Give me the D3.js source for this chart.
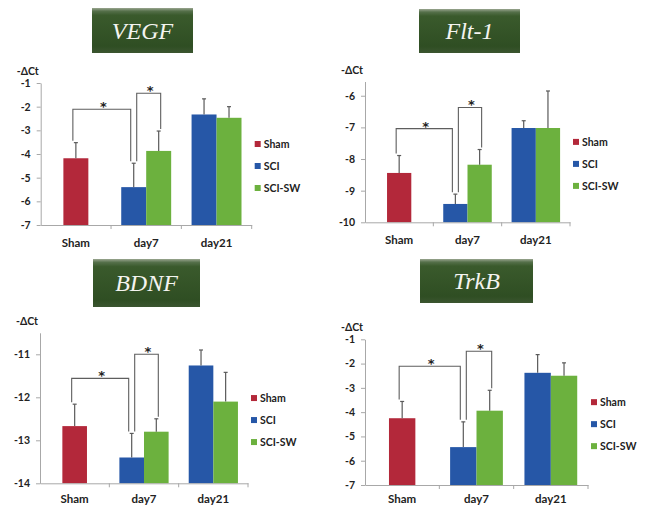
<!DOCTYPE html>
<html>
<head>
<meta charset="utf-8">
<script src="https://cdn.jsdelivr.net/npm/d3@7"></script>
<style>
  html, body { margin: 0; padding: 0; background: #ffffff; }
  svg { display: block; }
  .lab { font-family: Lato, "Open Sans", sans-serif; font-weight: 700; fill: #222; }
</style>
</head>
<body>
<svg id="chart" width="653" height="507"></svg>
<script>
// ---------------- data ----------------
const categories = ["Sham", "day7", "day21"];
const seriesNames = ["Sham", "SCI", "SCI-SW"];
const seriesColors = ["#b3283a", "#2657a7", "#6cb13e"];
const barCategory = ["Sham", "day7", "day7", "day21", "day21"];
const barSeries = ["Sham", "SCI", "SCI-SW", "SCI", "SCI-SW"];
const geneTitles = ["VEGF", "Flt-1", "BDNF", "TrkB"];

const vegfMean = [-4.18, -5.40, -3.87, -2.33, -2.47];
const vegfErr  = [0.66, 1.01, 0.84, 0.66, 0.47];
const flt1Mean = [-8.44, -9.42, -8.18, -7.02, -7.02];
const flt1Err  = [0.55, 0.31, 0.48, 0.23, 1.17];
const bdnfMean = [-12.67, -13.40, -12.80, -11.26, -12.10];
const bdnfErr  = [0.51, 0.56, 0.30, 0.36, 0.68];
const trkbMean = [-4.25, -5.44, -3.94, -2.38, -2.50];
const trkbErr  = [0.69, 1.04, 0.84, 0.75, 0.53];

const yMins = [-7, -10, -14, -7];
const yMaxs = [-1, -5.55, -10.5, -1];
const yTicks = [
  [-7, -6, -5, -4, -3, -2, -1],
  [-10, -9, -8, -7, -6],
  [-14, -13, -12, -11],
  [-7, -6, -5, -4, -3, -2, -1]
];
const yLabel = "-ΔCt";
// significance brackets: pairs of bar indices, and bracket levels (in -ΔCt units)
const sigPairs = [[0, 1], [1, 2]];
const sigLevels = [[-2.11, -1.43], [-7.04, -6.37], [-11.56, -11.0], [-2.11, -1.49]];
const sigMark = "*";

const means = [vegfMean, flt1Mean, bdnfMean, trkbMean];
const errs = [vegfErr, flt1Err, bdnfErr, trkbErr];

// ---------------- layout ----------------
const W = 653, H = 507;
const layout = [
  { x0: 40.7, x1: 251.7, yb: 225,   yt: 83,    tb: { x: 92,  y: 8,   w: 101, h: 45 } },
  { x0: 365,  x1: 570,   yb: 222.3, yt: 81.5,  tb: { x: 419, y: 9,   w: 101, h: 44 } },
  { x0: 40,   x1: 248,   yb: 483.3, yt: 332.8, tb: { x: 93,  y: 259, w: 107, h: 48 } },
  { x0: 365,  x1: 588,   yb: 485,   yt: 339.3, tb: { x: 420, y: 259, w: 113, h: 44 } }
];
const barFrac = 0.355;

const svg = d3.select("#chart");
const defs = svg.append("defs");
const grad = defs.append("linearGradient").attr("id", "tgrad")
  .attr("x1", 0).attr("y1", 0).attr("x2", 0).attr("y2", 1);
grad.append("stop").attr("offset", "0%").attr("stop-color", "#9aa690");
grad.append("stop").attr("offset", "7%").attr("stop-color", "#55704a");
grad.append("stop").attr("offset", "16%").attr("stop-color", "#3a5a2c");
grad.append("stop").attr("offset", "85%").attr("stop-color", "#2f4e23");
grad.append("stop").attr("offset", "100%").attr("stop-color", "#3b5530");

geneTitles.forEach((gene, p) => {
  const L = layout[p];
  const g = svg.append("g");

  // title box
  g.append("rect").attr("x", L.tb.x).attr("y", L.tb.y).attr("width", L.tb.w).attr("height", L.tb.h)
    .attr("fill", "url(#tgrad)");
  g.append("text").attr("x", L.tb.x + L.tb.w / 2).attr("y", L.tb.y + L.tb.h / 2 + 8)
    .attr("text-anchor", "middle")
    .style("font-family", "'Liberation Serif', 'DejaVu Serif', serif")
    .style("font-style", "italic").style("font-size", "24px").style("fill", "#f4f4f0")
    .text(gene);

  const x = d3.scaleBand().domain(categories).range([L.x0, L.x1]).padding(0);
  const y = d3.scaleLinear().domain([yMins[p], yMaxs[p]]).range([L.yb, L.yt]);
  const bw = x.bandwidth() * barFrac;

  // bar geometry via inner band scales
  const bars = barCategory.map((c, i) => {
    const present = barSeries.filter((s, j) => barCategory[j] === c);
    const cx = x(c) + x.bandwidth() / 2;
    const inner = d3.scaleBand().domain(present)
      .range([cx - present.length * bw / 2, cx + present.length * bw / 2]);
    return {
      x: inner(barSeries[i]), w: inner.bandwidth(),
      cx: inner(barSeries[i]) + inner.bandwidth() / 2,
      mean: means[p][i], err: errs[p][i],
      color: seriesColors[seriesNames.indexOf(barSeries[i])]
    };
  });

  // bars
  g.selectAll("rect.bar").data(bars).enter().append("rect").attr("class", "bar")
    .attr("x", d => d.x).attr("width", d => d.w)
    .attr("y", d => y(d.mean)).attr("height", d => y(yMins[p]) - y(d.mean))
    .attr("fill", d => d.color);

  // error bars
  g.selectAll("line.err").data(bars).enter().append("line").attr("class", "err")
    .attr("x1", d => d.cx).attr("x2", d => d.cx)
    .attr("y1", d => y(d.mean)).attr("y2", d => y(d.mean + d.err))
    .attr("stroke", "#5a5a5a").attr("stroke-width", 1.2);
  g.selectAll("line.cap").data(bars).enter().append("line").attr("class", "cap")
    .attr("x1", d => d.cx - 2).attr("x2", d => d.cx + 2)
    .attr("y1", d => y(d.mean + d.err)).attr("y2", d => y(d.mean + d.err))
    .attr("stroke", "#5a5a5a").attr("stroke-width", 1.2);

  // y axis
  const ya = d3.axisLeft(y).tickValues(yTicks[p]).tickSize(4).tickSizeOuter(0).tickPadding(6)
    .tickFormat(d => String(d));
  const yg = g.append("g").attr("transform", `translate(${L.x0},0)`).call(ya);
  yg.select(".domain").attr("stroke", "#a8a8a8");
  yg.selectAll(".tick line").attr("stroke", "#a8a8a8");
  yg.selectAll(".tick text").attr("class", "lab").style("font-size", "10.5px");

  // x axis
  const labOff = Math.min(22, H - L.yb - 4);
  const xa = d3.axisBottom(x).tickSize(0).tickSizeOuter(0).tickPadding(0);
  const xg = g.append("g").attr("transform", `translate(0,${L.yb})`).call(xa);
  xg.select(".domain").attr("stroke", "#a8a8a8");
  xg.selectAll(".tick text").attr("class", "lab").style("font-size", "11.5px")
    .attr("dy", null).attr("y", labOff);
  const bounds = categories.map(c => x(c)).concat([x.range()[1]]);
  g.selectAll("line.xt").data(bounds.slice(1)).enter().append("line").attr("class", "xt")
    .attr("x1", d => d).attr("x2", d => d).attr("y1", L.yb).attr("y2", L.yb + 4)
    .attr("stroke", "#a8a8a8");

  // y label
  g.append("text").attr("class", "lab").attr("x", L.x0 - 2).attr("y", L.yt - 8)
    .attr("text-anchor", "end").style("font-size", "10.5px").text(yLabel);

  // significance brackets
  sigPairs.forEach((pair, k) => {
    const a = bars[pair[0]], b = bars[pair[1]];
    const off = k === 0 ? [-3, -3] : [3, 2];
    const xa1 = a.cx + off[0], xb1 = b.cx + off[1];
    const yl = y(sigLevels[p][k]);
    const ya1 = y(a.mean + a.err) - 2, yb1 = y(b.mean + b.err) - 2;
    g.append("path")
      .attr("d", `M${xa1},${ya1}V${yl}H${xb1}V${yb1}`)
      .attr("fill", "none").attr("stroke", "#5e5e5e").attr("stroke-width", 1.1);
    g.append("text").attr("x", (xa1 + xb1) / 2 + 1.5).attr("y", yl + 2)
      .attr("text-anchor", "middle")
      .style("font-family", "'DejaVu Sans', sans-serif").style("font-weight", 700)
      .style("font-size", "13px").style("fill", "#222").text(sigMark);
  });

  // legend
  const ly0 = (L.yt + L.yb) / 2 - 10;
  const lg = g.selectAll("g.leg").data(seriesNames).enter().append("g").attr("class", "leg")
    .attr("transform", (d, i) => `translate(${L.x1 + 3},${ly0 + i * 22})`);
  lg.append("rect").attr("x", 0).attr("y", -3).attr("width", 6).attr("height", 6)
    .attr("fill", (d, i) => seriesColors[i]);
  lg.append("text").attr("class", "lab").attr("x", 9).attr("y", 0).attr("dy", "0.35em")
    .style("font-size", "10.5px").text(d => d);
});
</script>
</body>
</html>
